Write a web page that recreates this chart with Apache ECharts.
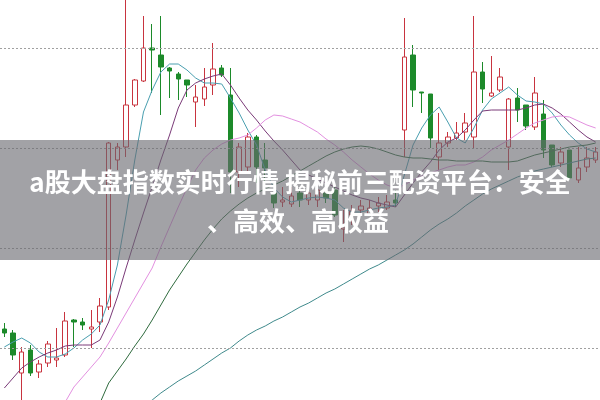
<!DOCTYPE html>
<html>
<head>
<meta charset="utf-8">
<script src="https://cdn.jsdelivr.net/npm/echarts@6/dist/echarts.min.js"></script>
<style>html,body{margin:0;padding:0;background:#fff;}#c{width:600px;height:400px;}</style>
</head>
<body>
<div id="c"></div>
<script>
const categories = [1,2,3,4,5,6,7,8,9,10,11,12,13,14,15,16,17,18,19,20,21,22,23,24,25,26,27,28,29,30,31,32,33,34,35,36,37,38,39,40,41,42,43,44,45,46,47,48,49,50,51,52,53,54,55,56,57,58,59,60,61,62,63,64,65,66,67,68,69];

// [open, close, low, high]
const candles = [
  [71,67,63,77],[67,45,40,70],[27,48,-2,53],[50,27,24,55],[28,36,22,40],
  [37,56,33,59],[40,42,33,72],[45,79,43,88],[80,78,53,81],[78,75,70,82],
  [71,73,52,90],[78,94,68,102],[93,257,90,258],[240,253,230,257],[253,295,243,405],
  [295,320,293,321],[319,352,318,384],[352,350,307,376],[345,333,285,384],[332,329,302,333],
  [326,321,300,328],[320,315,303,320],[298,303,273,315],[301,313,294,332],[315,331,305,357],
  [332,325,323,335],[305,228,207,332],[228,253,213,257],[233,263,227,267],[263,233,217,265],
  [240,232,207,257],[207,197,192,217],[198,200,193,213],[196,204,193,213],[207,200,193,210],
  [200,207,195,212],[200,210,193,215],[207,202,197,210],[210,185,183,213],[171,173,158,190],
  [185,189,175,195],[190,194,185,200],[186,192,185,200],[194,197,188,203],[192,198,190,205],
  [200,197,193,210],[270,343,243,382],[345,310,293,355],[308,307,287,308],[306,262,252,306],
  [243,257,230,287],[257,263,253,268],[262,267,260,278],[268,277,260,287],[263,328,252,384],
  [328,311,297,338],[304,307,303,344],[310,323,308,332],[253,301,230,302],[302,290,278,312],
  [295,274,270,295],[273,307,270,323],[286,250,242,300],[255,235,233,255],[237,248,233,253],
  [250,222,220,250],[220,232,217,253],[233,242,228,253],[240,248,237,253]
];

const ma5 = [53,58,62,57,48,43,43,46,52,60,
  66,75,100,135,185,240,288,310,328,336,
  336,330,322,317,317,316,302,287,270,255,
  230,212,203,198,200,202,203,202,200,192,
  188,188,190,192,193,195,225,255,272,285,
  293,278,262,257,272,290,301,307,313,305,
  299,298,296,287,275,265,257,251,248];

const ma10 = [12,22,32,38,43,47,50,54,55,55,
  55,60,78,103,132,160,187,213,240,265,
  292,310,317,321,324,326,315,302,290,280,
  269,259,250,240,230,225,221,217,213,209,
  205,202,200,197,195,193,205,217,228,238,
  250,258,262,270,280,289,290,290,290,290,
  292,295,296,292,286,278,270,263,258];

const ma20 = [null,null,null,null,null,null,null,-2,13,23,
  33,43,57,72,87,102,117,132,153,173,
  193,212,230,242,250,256,260,262,265,272,
  280,285,284,281,278,273,268,261,255,248,
  240,233,226,220,215,212,215,220,224,227,
  230,233,235,235,238,243,250,255,260,266,
  272,277,280,283,284,283,279,275,272];

const ma30 = [null,null,null,null,null,null,null,null,null,null,
  null,-3,17,29,41,54,66,80,95,110,
  123,136,148,160,171,181,189,196,202,207,
  211,215,219,224,229,234,239,244,248,251,
  253,254,253,251,248,245,243,242,242,241,
  240,240,239,239,239,239,238,238,238,239,
  242,245,247,249,251,253,254,255,257];

const ma60 = [null,null,null,null,null,null,null,null,null,null,
  null,null,null,null,null,null,-6,0,7,13,
  19,24,29,35,41,47,52,59,65,70,
  74,79,83,88,93,97,102,107,111,116,
  121,126,131,135,140,145,150,156,163,170,
  176,181,187,194,200,206,211,215,219,223,
  226,229,231,233,235,237,239,241,242];

const gridLevels = [52,152,252,352];
const titleLines = ['a股大盘指数实时行情 揭秘前三配资平台：安全', '、高效、高收益'];

const chart = echarts.init(document.getElementById('c'));
const lineSeries = (name, data, color) => ({
  name, type: 'line', data, symbol: 'none', smooth: false, silent: true,
  lineStyle: { color, width: 1 }, z: 3, connectNulls: false
});
chart.setOption({
  animation: false,
  backgroundColor: '#fff',
  grid: { left: -2.4, right: 0, top: 0, bottom: 0 },
  xAxis: { type: 'category', data: categories, boundaryGap: true, show: false },
  yAxis: { type: 'value', min: 0, max: 400, show: false, splitLine: { show: false } },
  series: [
    {
      type: 'candlestick', data: candles, barWidth: 5, z: 2,
      itemStyle: { color: '#ffffff', color0: '#1c8a2a', borderColor: '#c8343f', borderColor0: '#1c8a2a', borderWidth: 1 },
      markLine: {
        silent: true, symbol: 'none', label: { show: false },
        lineStyle: { color: '#a0a0a0', type: [2, 2], width: 1 },
        data: gridLevels.map(v => ({ yAxis: v }))
      }
    },
    lineSeries('MA5', ma5, '#4a9fb0'),
    lineSeries('MA10', ma10, '#7a3a78'),
    lineSeries('MA20', ma20, '#e390e0'),
    lineSeries('MA30', ma30, '#2f6b3e'),
    lineSeries('MA60', ma60, '#3f8a8c')
  ],
  graphic: [
    { type: 'rect', shape: { x: 0, y: 140, width: 600, height: 120 }, style: { fill: 'rgba(105,105,112,0.62)' }, z: 100, silent: true },
    { type: 'text', x: 300, y: 182, z: 101, silent: true,
      style: { text: titleLines[0], fill: '#ffffff', font: 'bold 26px "Noto Sans CJK SC"', textAlign: 'center', textVerticalAlign: 'middle' } },
    { type: 'text', x: 298, y: 221, z: 101, silent: true,
      style: { text: titleLines[1], fill: '#ffffff', font: 'bold 26px "Noto Sans CJK SC"', textAlign: 'center', textVerticalAlign: 'middle' } }
  ]
});
</script>
</body>
</html>
